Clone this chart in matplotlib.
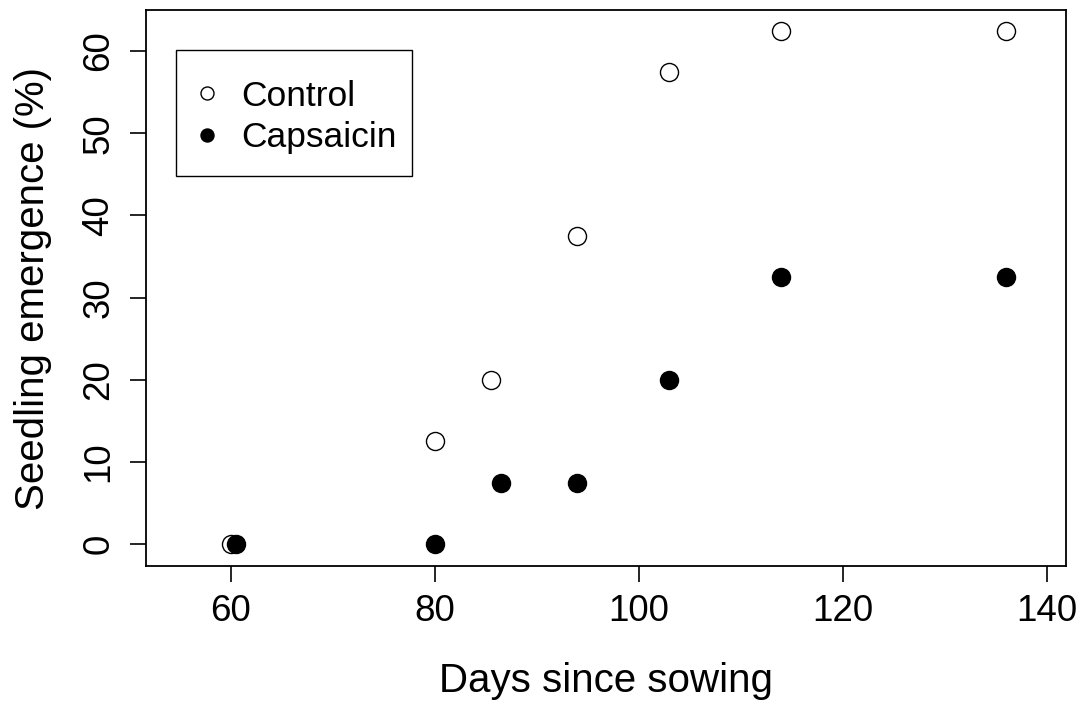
"""seedling emergence scatter, R base-graphics look"""

import matplotlib
matplotlib.use("Agg")
import matplotlib.pyplot as plt
from matplotlib.patches import Rectangle

days_control = [60, 80, 85.5, 94, 103, 114, 136]
control = [0, 12.5, 20, 37.5, 57.5, 62.5, 62.5]
days_caps = [60.5, 80, 86.5, 94, 103, 114, 136]
capsaicin = [0, 0, 7.5, 7.5, 20, 32.5, 32.5]

x_ticks = [60, 80, 100, 120, 140]
y_ticks = [0, 10, 20, 30, 40, 50, 60]

plt.rcParams["font.family"] = ["Liberation Sans", "DejaVu Sans"]

fig = plt.figure(figsize=(10.84, 7.06), dpi=100)
ax = fig.add_axes([146 / 1084, 1 - 566 / 706, 920 / 1084, 556 / 706])

ax.plot(days_control, control, "o", ms=13, mfc="white", mec="black", mew=1.0,
        label="Control", zorder=3)
ax.plot(days_caps, capsaicin, "o", ms=13, mfc="black", mec="black", mew=1.0,
        label="Capsaicin", zorder=3)

ax.set_xlim(51.7, 141.9)
ax.set_ylim(-2.65, 65.0)
ax.set_xticks(x_ticks)
ax.set_yticks(y_ticks)
ax.set_yticklabels([str(v) for v in y_ticks], rotation=90, va="center")
ax.tick_params(direction="out", length=11.5, width=1.2, labelsize=26.5)
ax.tick_params(axis="x", pad=9)
ax.tick_params(axis="y", pad=10)

for s in ax.spines.values():
    s.set_linewidth(1.3)

ax.set_xlabel("Days since sowing", fontsize=29)
ax.set_ylabel("Seedling emergence (%)", fontsize=29)
ax.xaxis.set_label_coords(0.5, -0.172)
ax.yaxis.set_label_coords(-0.102, 0.5)

# legend entries without frame, R-style box drawn separately
ax.legend(loc="center left", bbox_to_anchor=(0.0509, (566 - 117) / 556),
          fontsize=25.5, markerscale=0.72, frameon=False,
          handlelength=0.8, handletextpad=0.58,
          borderpad=0, labelspacing=0.24, borderaxespad=0)
ax.add_patch(Rectangle((30 / 920, (566 - 176) / 556), 236 / 920, 126 / 556,
                       transform=ax.transAxes, fill=False, ec="black",
                       lw=1.0, zorder=4))

plt.savefig("out.png", dpi=100)
plt.close()
